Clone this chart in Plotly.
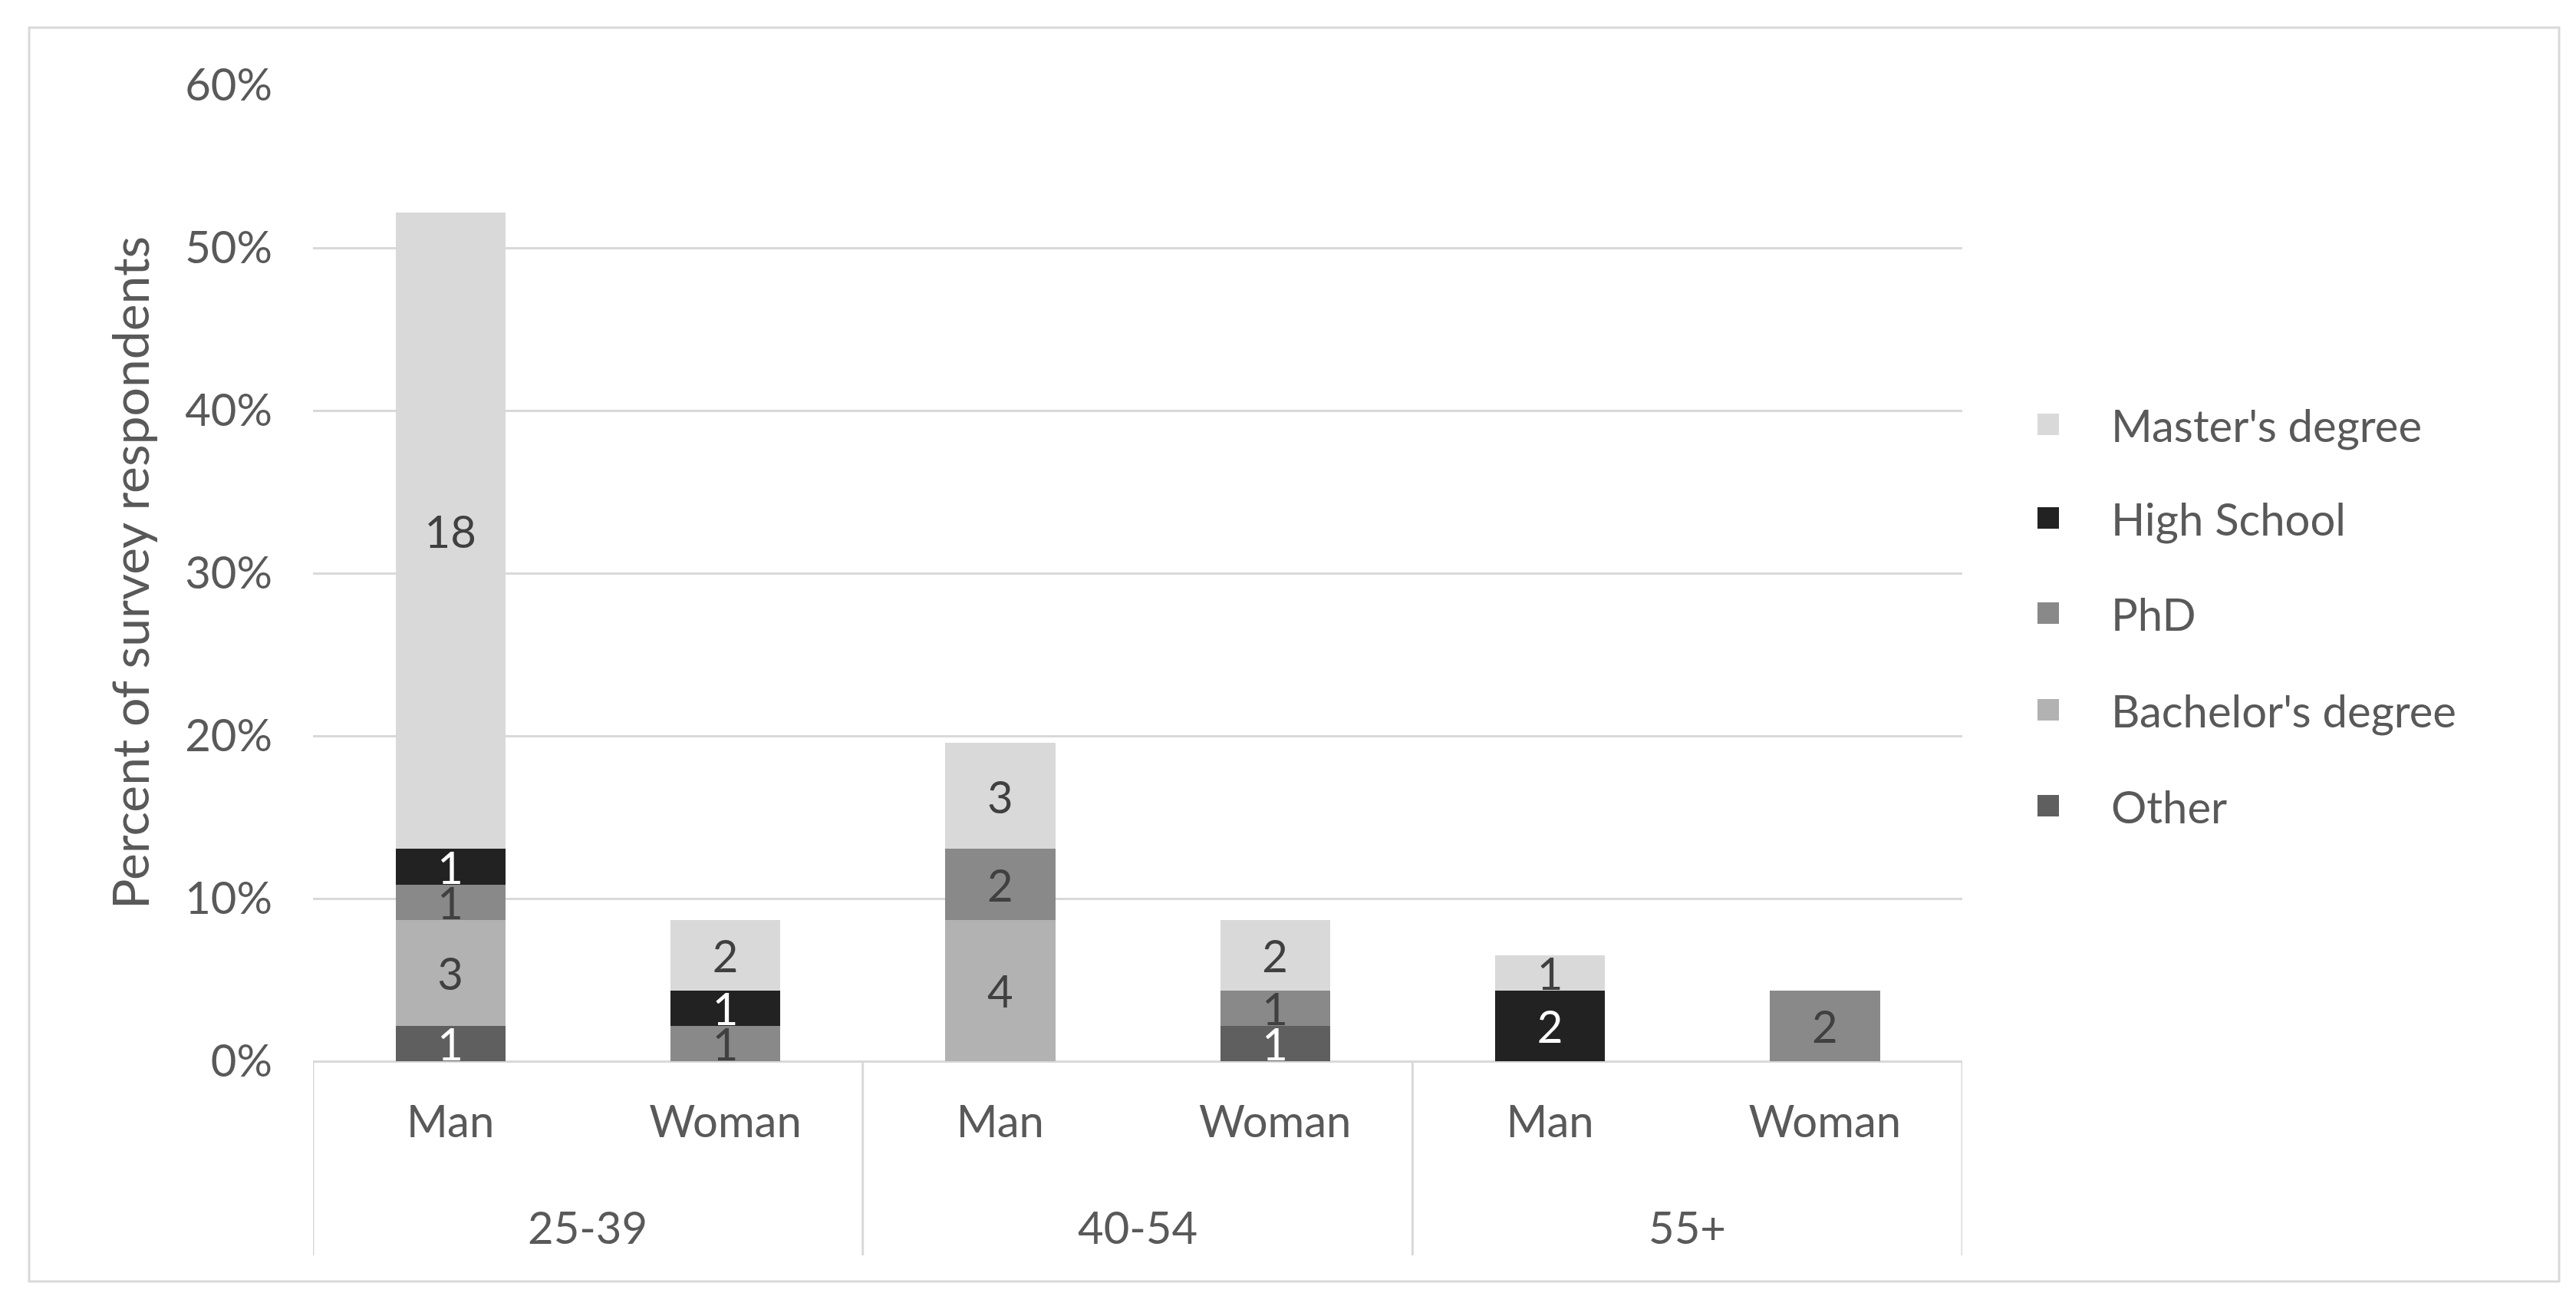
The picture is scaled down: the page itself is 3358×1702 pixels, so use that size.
import plotly.graph_objects as go

# ---------------- data ----------------
age_groups = ["25-39", "25-39", "40-54", "40-54", "55+", "55+"]
genders = ["Man", "Woman", "Man", "Woman", "Man", "Woman"]

# counts of respondents (stack order bottom -> top)
other = [1, 0, 0, 1, 0, 0]
bachelors = [3, 0, 4, 0, 0, 0]
phd = [1, 1, 2, 1, 0, 2]
high_school = [1, 1, 0, 0, 2, 0]
masters = [18, 2, 3, 2, 1, 0]
total_respondents = 46

series_names = ["Other", "Bachelor's degree", "PhD", "High School", "Master's degree"]
series_counts = [other, bachelors, phd, high_school, masters]
series_colors = ["#5f5f5f", "#b2b2b2", "#898989", "#222222", "#d9d9d9"]
label_colors = ["#ffffff", "#404040", "#404040", "#ffffff", "#404040"]

y_ticks = [0, 0.1, 0.2, 0.3, 0.4, 0.5, 0.6]

# ---------------- layout helpers ----------------
W, H = 3358, 1702
FONT = "Lato"
TXT = "#595959"
GRID = "#d9d9d9"


def px(x):
    return x / W


def py(y):
    return 1 - y / H


positions = list(range(len(genders)))

fig = go.Figure()

for name, counts, col, tcol in zip(series_names, series_counts, series_colors, label_colors):
    fig.add_trace(go.Bar(
        name=name,
        x=positions,
        y=[c / total_respondents if c else None for c in counts],
        width=0.4,
        text=[str(c) if c else "" for c in counts],
        textposition="inside",
        insidetextanchor="middle",
        textangle=0,
        constraintext="none",
        textfont=dict(family=FONT, size=58, color=tcol),
        marker=dict(color=col, line=dict(width=0)),
        showlegend=False,
        hoverinfo="skip",
    ))

fig.update_layout(
    width=W, height=H,
    margin=dict(l=0, r=0, t=0, b=0),
    paper_bgcolor="white",
    plot_bgcolor="white",
    barmode="stack",
    font=dict(family=FONT, size=58, color=TXT),
    showlegend=False,
    xaxis=dict(
        domain=[px(400), px(2550)],
        range=[-0.5, len(genders) - 0.5],
        tickmode="array",
        tickvals=positions,
        ticktext=genders,
        showline=False,
        ticks="",
        tickfont=dict(family=FONT, size=58, color=TXT),
        ticklabelstandoff=40,
        showgrid=False,
        zeroline=False,
        automargin=False,
    ),
    yaxis=dict(
        domain=[py(1375), py(103)],
        range=[0, 0.6],
        tickvals=y_ticks,
        tickformat=".0%",
        showgrid=True,
        gridcolor=GRID,
        gridwidth=3,
        zeroline=True,
        zerolinecolor=GRID,
        zerolinewidth=3,
        showline=False,
        ticks="",
        ticklabelstandoff=52,
        tickfont=dict(family=FONT, size=58, color=TXT),
        automargin=False,
    ),
)

# group (age) labels and dividers below the axis
groups = []
for i, g in enumerate(age_groups):
    if not groups or groups[-1][0] != g:
        groups.append([g, i, i])
    else:
        groups[-1][2] = i

for g, first, last in groups:
    fig.add_annotation(
        text=g, xref="x", yref="paper",
        x=(first + last) / 2, y=py(1590),
        showarrow=False, xanchor="center", yanchor="middle",
        font=dict(family=FONT, size=58, color=TXT),
    )

divider_pos = [groups[0][1] - 0.5] + [last + 0.5 for _, _, last in groups]
for d in divider_pos:
    fig.add_shape(
        type="line", xref="x", yref="paper",
        x0=d, x1=d, y0=py(1375), y1=py(1628),
        line=dict(color=GRID, width=3),
    )

# y-axis title
fig.add_annotation(
    text="Percent of survey respondents",
    xref="paper", yref="paper",
    x=px(160), y=py(739),
    textangle=-90,
    showarrow=False,
    font=dict(family=FONT, size=66, color=TXT),
    xanchor="center", yanchor="middle",
)

# outer chart border
fig.add_shape(
    type="rect", xref="paper", yref="paper",
    x0=px(30), x1=px(3328), y0=py(1662), y1=py(28),
    line=dict(color=GRID, width=3), fillcolor="rgba(0,0,0,0)", layer="below",
)

# legend (top to bottom: reverse of stacking order)
legend_y = [545, 667, 791, 917, 1042]
for yy, name, col in zip(legend_y, series_names[::-1], series_colors[::-1]):
    fig.add_shape(
        type="rect", xref="paper", yref="paper",
        x0=px(2648), x1=px(2676), y0=py(yy + 14), y1=py(yy - 14),
        line=dict(width=0), fillcolor=col,
    )
    fig.add_annotation(
        text=name, xref="paper", yref="paper",
        x=px(2742), y=py(yy), xanchor="left", yanchor="middle",
        showarrow=False, font=dict(family=FONT, size=58, color=TXT),
    )

fig.write_html("out.html")
